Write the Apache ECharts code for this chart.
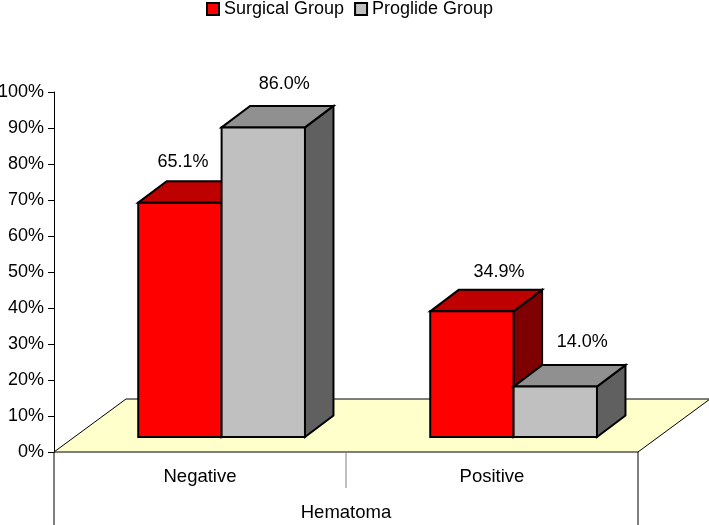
<!DOCTYPE html>
<html>
<head>
<meta charset="utf-8">
<style>html,body{margin:0;padding:0;background:#fff}#c{width:709px;height:525px}</style>
<script src="https://cdn.jsdelivr.net/npm/echarts@6/dist/echarts.min.js"></script>
</head>
<body>
<div id="c"></div>
<script>
var categories = ['Negative', 'Positive'];
var surgical = [65.1, 34.9];
var proglide = [86.0, 14.0];
var seriesNames = ['Surgical Group', 'Proglide Group'];
var axisTitle = 'Hematoma';

var FONT = 'Liberation Sans, Arial, sans-serif';
var FS = 18;
var BAND_FRAC = 0.2855, SHIFT = 21.6, LIFT = 15, DEPTH_X = 28.5, DEPTH_Y = 21.5;
var FLOOR_X = 72, FLOOR_Y = 53;
var nudge = { s: [[3, -41], [27, -39]], p: [[21, -43], [27, -45]] };

function poly(pts, fill) {
  return { type: 'polygon', shape: { points: pts },
    style: { fill: fill, stroke: '#000', lineWidth: 2, lineJoin: 'miter' } };
}
function makeBar(colors, side, key) {
  return function (params, api) {
    var idx = api.value(0), val = api.value(1);
    var base = api.coord([idx, 0]), top = api.coord([idx, val]);
    var w = api.size([1, 0])[0] * BAND_FRAC;
    var x0 = base[0] + SHIFT + (side < 0 ? -w : 0), x1 = x0 + w;
    var yb = base[1] - LIFT, yt = top[1] - LIFT;
    var n = nudge[key][idx];
    return { type: 'group', children: [
      poly([[x1, yb], [x1 + DEPTH_X, yb - DEPTH_Y], [x1 + DEPTH_X, yt - DEPTH_Y], [x1, yt]], colors[2]),
      poly([[x0, yt], [x0 + DEPTH_X, yt - DEPTH_Y], [x1 + DEPTH_X, yt - DEPTH_Y], [x1, yt]], colors[1]),
      poly([[x0, yb], [x1, yb], [x1, yt], [x0, yt]], colors[0]),
      { type: 'text', x: (x0 + x1) / 2 + n[0], y: yt + n[1],
        style: { text: val.toFixed(1) + '%', fill: '#000', font: FS + 'px ' + FONT, align: 'center', verticalAlign: 'middle' } }
    ] };
  };
}
function frame(params, api) {
  var c = params.coordSys, l = c.x, r = c.x + c.width, b = c.y + c.height;
  var mid = (l + r) / 2, bottom = api.getHeight();
  var line = function (x1, y1, x2, y2, col) {
    return { type: 'line', shape: { x1: x1, y1: y1, x2: x2, y2: y2 }, style: { stroke: col || '#000', lineWidth: 1 } };
  };
  return { type: 'group', children: [
    { type: 'polygon', shape: { points: [[l, b], [l + FLOOR_X, b - FLOOR_Y], [r + FLOOR_X, b - FLOOR_Y], [r, b]] },
      style: { fill: '#FFFFCC', stroke: '#000', lineWidth: 1 } },
    line(l, b, l, bottom), line(r, b, r, bottom), line(mid, b, mid, b + 36, '#808080')
  ] };
}

var chart = echarts.init(document.getElementById('c'), null, { renderer: 'canvas' });
chart.setOption({
  animation: false,
  backgroundColor: '#fff',
  legend: {
    top: -5, left: 201, itemWidth: 12, itemHeight: 12, itemGap: 10, icon: 'rect',
    data: seriesNames,
    textStyle: { fontFamily: FONT, fontSize: FS, color: '#000' },
    selectedMode: false
  },
  grid: { left: 54, top: 92, width: 584, height: 360, outerBoundsMode: 'none' },
  xAxis: {
    type: 'category', data: categories,
    axisLine: { show: false }, axisTick: { show: false },
    axisLabel: { fontFamily: FONT, fontSize: FS + 0.5, color: '#000', margin: 15 },
    name: axisTitle, nameLocation: 'middle', nameGap: 51,
    nameTextStyle: { fontFamily: FONT, fontSize: FS + 0.5, color: '#000' }
  },
  yAxis: {
    type: 'value', min: 0, max: 100, interval: 10,
    splitLine: { show: false },
    axisLine: { show: true, lineStyle: { color: '#000', width: 1 } },
    axisTick: { show: true, length: 6, lineStyle: { color: '#000' } },
    axisLabel: { formatter: '{value}%', fontFamily: FONT, fontSize: FS, color: '#000', margin: 10, padding: [1, 0, 0, 0] }
  },
  series: [
    { type: 'custom', name: 'floor', renderItem: frame, data: [[0, 0]], clip: false, silent: true, z: 1 },
    { type: 'custom', name: seriesNames[0], renderItem: makeBar(['#FF0000', '#BF0000', '#7F0000'], -1, 's'),
      encode: { x: 0, y: 1 }, data: surgical.map(function (v, i) { return [i, v]; }),
      itemStyle: { color: '#FF0000', borderColor: '#000', borderWidth: 2 }, clip: false, silent: true, z: 2 },
    { type: 'custom', name: seriesNames[1], renderItem: makeBar(['#C0C0C0', '#909090', '#606060'], 1, 'p'),
      encode: { x: 0, y: 1 }, data: proglide.map(function (v, i) { return [i, v]; }),
      itemStyle: { color: '#C0C0C0', borderColor: '#000', borderWidth: 2 }, clip: false, silent: true, z: 3 }
  ]
});
</script>
</body>
</html>
